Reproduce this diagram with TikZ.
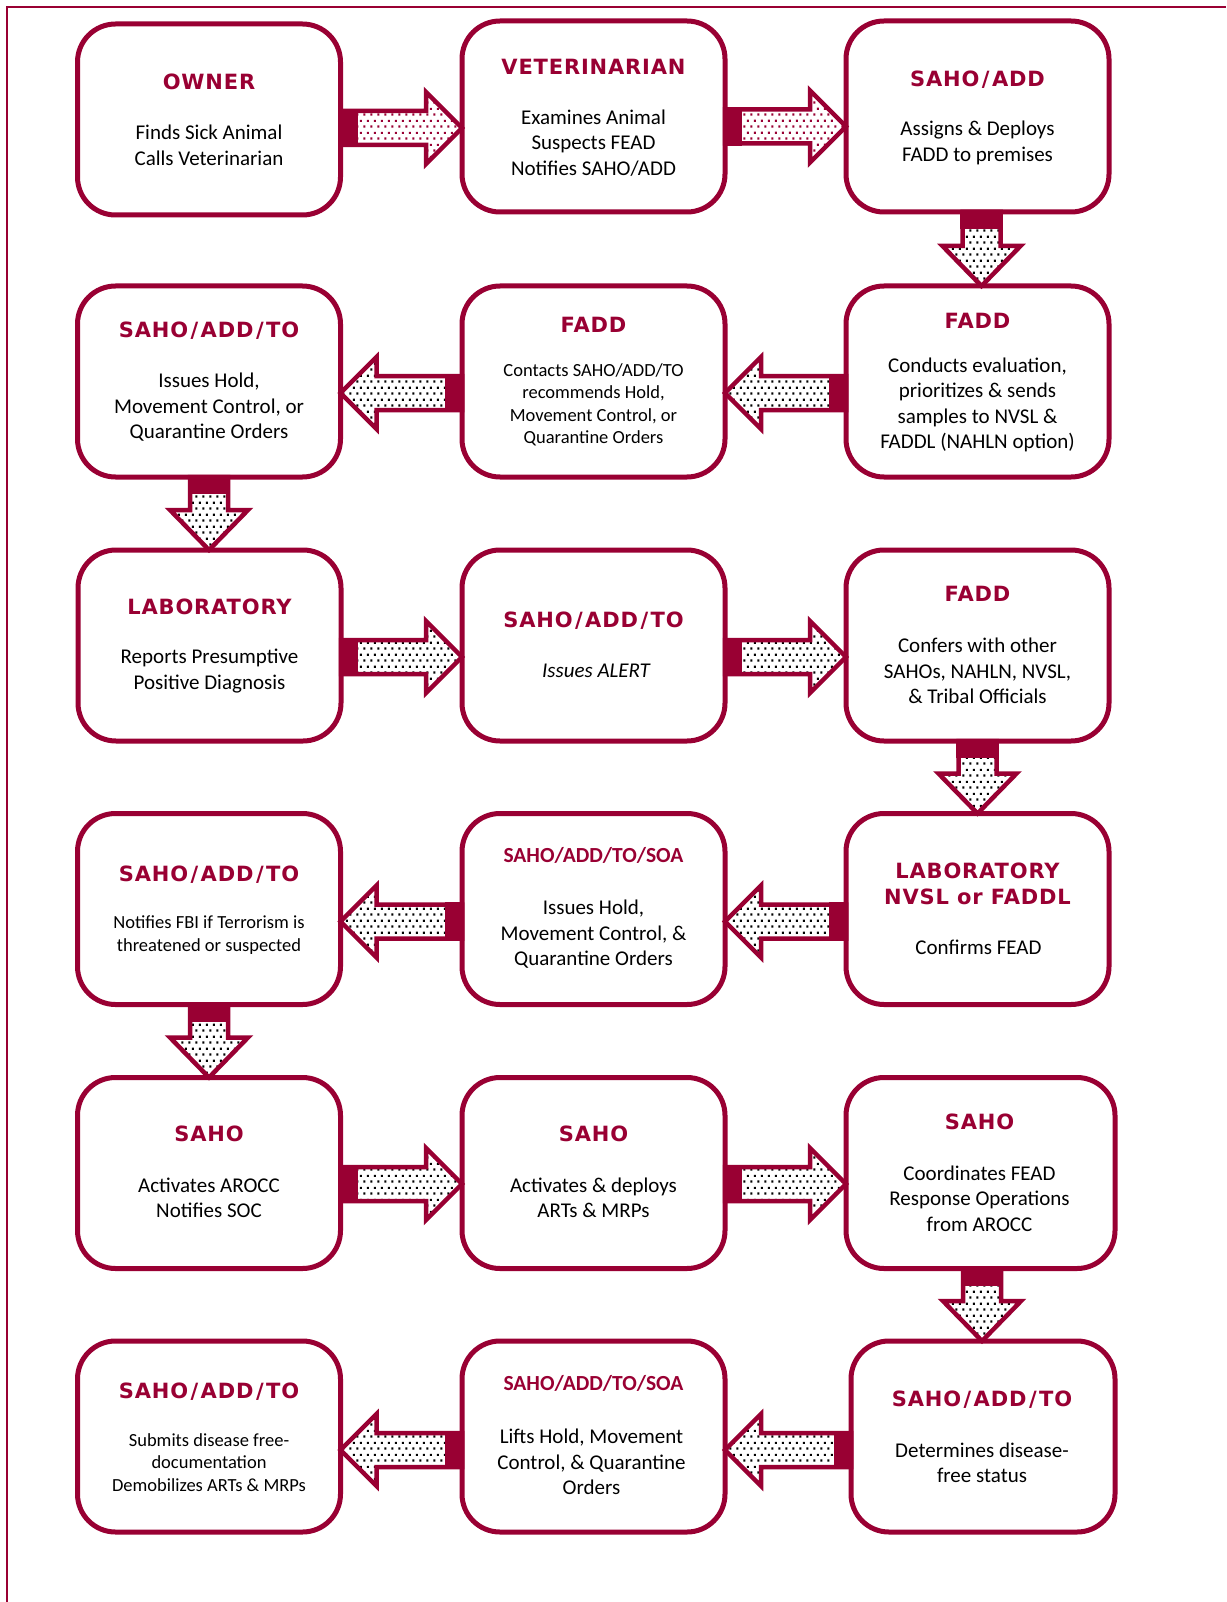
\documentclass[tikz,border=0pt]{standalone}
\usepackage{fontspec}
\setmainfont{Carlito}
\newfontfamily\headfont{DejaVu Sans}[LetterSpace=4]
\usetikzlibrary{calc,patterns.meta}
\definecolor{crim}{RGB}{153,0,51}
\newcommand\slh{\hbox to 0.6em{\hss/\hss}}
\pgfdeclarepattern{
  name=stagdots,
  type=uncolored,
  bottom left={\pgfpoint{0pt}{0pt}},
  top right={\pgfpoint{7.3pt}{11.6pt}},
  tile size={\pgfpoint{7.3pt}{11.6pt}},
  code={
    \pgfpathrectangle{\pgfpoint{0.5pt}{0.5pt}}{\pgfpoint{2.2pt}{2.2pt}}
    \pgfpathrectangle{\pgfpoint{4.15pt}{6.3pt}}{\pgfpoint{2.2pt}{2.2pt}}
    \pgfusepath{fill}
  }
}
\tikzset{
  box/.style={draw=crim, line width=5pt, rounded corners=38pt, minimum width=263pt,
    minimum height=191pt, outer sep=0pt, inner sep=0pt, fill=white},
  head/.style={text=crim, font={\headfont\bfseries\fontsize{21pt}{26.5pt}\selectfont},
    inner sep=0pt, align=center},
  headone/.style={head, text height=15.3pt, text depth=0pt},
  sohead/.style={text=crim, font={\bfseries\fontsize{21.5pt}{24pt}\selectfont},
    inner sep=0pt, text height=13.8pt, text depth=0pt},
  body/.style={font={\fontsize{21pt}{25.5pt}\selectfont}, inner sep=0pt, align=center},
  small/.style={font={\fontsize{18.5pt}{22.5pt}\selectfont}, inner sep=0pt, align=center},
  arrowline/.style={draw=crim, line width=4.5pt, line join=miter},
}
% #1 tail, #2 tip, #3 shaft half width, #4 head half width, #5 head length, #6 dot colour
\newcommand\flowarrow[6]{%
  \path (#1) coordinate (fa-a);
  \path (#2) coordinate (fa-b);
  \path ($(fa-b)!#5!(fa-a)$) coordinate (fa-h);
  \path ($(fa-a)!#3!90:(fa-b)$) coordinate (fa-a1)
        ($(fa-a)!#3!-90:(fa-b)$) coordinate (fa-a2)
        ($(fa-h)!#3!90:(fa-b)$) coordinate (fa-h1)
        ($(fa-h)!#3!-90:(fa-b)$) coordinate (fa-h2)
        ($(fa-h)!#4!90:(fa-b)$) coordinate (fa-w1)
        ($(fa-h)!#4!-90:(fa-b)$) coordinate (fa-w2);
  \path ($(fa-a1)!15pt!(fa-h1)$) coordinate (fa-t1)
        ($(fa-a2)!15pt!(fa-h2)$) coordinate (fa-t2);
  \draw[arrowline, preaction={fill=white}, pattern=stagdots, pattern color=#6]
    (fa-a1) -- (fa-h1) -- (fa-w1) -- (fa-b) -- (fa-w2) -- (fa-h2) -- (fa-a2) -- cycle;
  \draw[arrowline, fill=crim] (fa-a1) -- (fa-t1) -- (fa-t2) -- (fa-a2) -- cycle;
}
\begin{document}
\begin{tikzpicture}[x=1pt,y=-1pt]
\useasboundingbox (0,0) rectangle (1226,1602);
\fill[white] (0,0) rectangle (1226,1602);
% page border (top and left)
\draw[crim, line width=2pt] (7,1602) -- (7,7) -- (1226,7);

% boxes
\node[box] (b11) at (209,119.5) {};
\node[box] (b12) at (593.5,116.5) {};
\node[box] (b13) at (977.5,116.5) {};
\node[box] (b21) at (209,381.5) {};
\node[box] (b22) at (593.5,381.5) {};
\node[box] (b23) at (977.5,381.5) {};
\node[box] (b31) at (209.5,645.5) {};
\node[box] (b32) at (593.5,645.5) {};
\node[box] (b33) at (977.5,645.5) {};
\node[box] (b41) at (209,909) {};
\node[box] (b42) at (593.5,909) {};
\node[box] (b43) at (977.5,909) {};
\node[box] (b51) at (209,1173) {};
\node[box] (b52) at (593.5,1173) {};
\node[box, minimum width=269pt] (b53) at (980.5,1173) {};
\node[box] (b61) at (209,1436.5) {};
\node[box] (b62) at (593.5,1436.5) {};
\node[box, minimum width=264pt] (b63) at (983,1436.5) {};

% horizontal arrows
\flowarrow{$(b11.east)+(0,8.5)$}{b12.west |- fa-a}{17pt}{36pt}{36pt}{crim}
\flowarrow{$(b12.east)+(0,10)$}{b13.west |- fa-a}{17pt}{36pt}{36pt}{crim}
\flowarrow{$(b22.west)+(0,11.5)$}{b21.east |- fa-a}{17pt}{36pt}{36pt}{black}
\flowarrow{$(b23.west)+(0,11.5)$}{b22.east |- fa-a}{17pt}{36pt}{36pt}{black}
\flowarrow{$(b31.east)+(0,11.5)$}{b32.west |- fa-a}{17pt}{36pt}{36pt}{black}
\flowarrow{$(b32.east)+(0,11.5)$}{b33.west |- fa-a}{17pt}{36pt}{36pt}{black}
\flowarrow{$(b42.west)+(0,12.5)$}{b41.east |- fa-a}{17pt}{36pt}{36pt}{black}
\flowarrow{$(b43.west)+(0,12.5)$}{b42.east |- fa-a}{17pt}{36pt}{36pt}{black}
\flowarrow{$(b51.east)+(0,11)$}{b52.west |- fa-a}{17pt}{36pt}{36pt}{black}
\flowarrow{$(b52.east)+(0,11)$}{b53.west |- fa-a}{17pt}{36pt}{36pt}{black}
\flowarrow{$(b62.west)+(0,13.5)$}{b61.east |- fa-a}{17pt}{36pt}{36pt}{black}
\flowarrow{$(b63.west)+(0,13.5)$}{b62.east |- fa-a}{17pt}{36pt}{36pt}{black}
% vertical arrows
\flowarrow{$(b13.south)+(4,0)$}{fa-a |- b23.north}{19pt}{39pt}{40pt}{black}
\flowarrow{b21.south}{fa-a |- b31.north}{19pt}{39pt}{40pt}{black}
\flowarrow{b33.south}{fa-a |- b43.north}{19pt}{39pt}{40pt}{black}
\flowarrow{b41.south}{fa-a |- b51.north}{19pt}{39pt}{40pt}{black}
\flowarrow{$(b53.south)+(1.5,0)$}{fa-a |- b63.north}{19pt}{39pt}{40pt}{black}

% texts
\node[headone] (h11) at (209,81.7) {OWNER};
\node[body] (t11) at (209,145.3) {Finds Sick Animal\\Calls Veterinarian};
\node[headone] (h12) at (593.5,66.4) {VETERINARIAN};
\node[body] (t12) at (593.5,143) {Examines Animal\\Suspects FEAD\\Notifies SAHO/ADD};
\node[headone] (h13) at (977.5,78.7) {SAHO\slh ADD};
\node[body] (t13) at (977.5,143) {Assigns \& Deploys\\FADD to premises};

\node[headone] (h21) at (209,330) {SAHO\slh ADD\slh TO};
\node[body] (t21) at (209,407.5) {Issues Hold,\\Movement Control, or\\Quarantine Orders};
\node[headone] (h22) at (593.5,325) {FADD};
\node[small] (t22) at (593.5,405) {Contacts SAHO/ADD/TO\\recommends Hold,\\Movement Control, or\\Quarantine Orders};
\node[headone] (h23) at (977.5,321) {FADD};
\node[body] (t23) at (977.5,405) {Conducts evaluation,\\prioritizes \& sends\\samples to NVSL \&\\FADDL (NAHLN option)};

\node[headone] (h31) at (209.5,607) {LABORATORY};
\node[body] (t31) at (209.5,671) {Reports Presumptive\\Positive Diagnosis};
\node[headone] (h32) at (593.5,620) {SAHO\slh ADD\slh TO};
\node[body, font={\itshape\fontsize{21pt}{25.5pt}\selectfont}] (t32) at (596,671) {Issues ALERT};
\node[headone] (h33) at (977.5,593.6) {FADD};
\node[body] (t33) at (977.5,671) {Confers with other\\SAHOs, NAHLN, NVSL,\\\& Tribal Officials};

\node[headone] (h41) at (209,873.5) {SAHO\slh ADD\slh TO};
\node[small] (t41) at (209,935) {Notifies FBI if Terrorism is\\threatened or suspected};
\node[sohead] (h42) at (593.5,856) {SAHO/ADD/TO/SOA};
\node[body] (t42) at (593.5,934.5) {Issues Hold,\\Movement Control, \&\\Quarantine Orders};
\node[head] (h43) at (977.5,883.7) {LABORATORY\\NVSL or FADDL};
\node[body] (t43) at (978.5,947) {Confirms FEAD};

\node[headone] (h51) at (209,1134) {SAHO};
\node[body] (t51) at (209,1198) {Activates AROCC\\Notifies SOC};
\node[headone] (h52) at (593.5,1134) {SAHO};
\node[body] (t52) at (593.5,1198) {Activates \& deploys\\ARTs \& MRPs};
\node[headone] (h53) at (979.5,1122) {SAHO};
\node[body] (t53) at (979.5,1198.5) {Coordinates FEAD\\Response Operations\\from AROCC};

\node[headone] (h61) at (209,1390.5) {SAHO\slh ADD\slh TO};
\node[small] (t61) at (209,1462.5) {Submits disease free-\\documentation\\Demobilizes ARTs \& MRPs};
\node[sohead] (h62) at (593.5,1384) {SAHO/ADD/TO/SOA};
\node[body] (t62) at (591.5,1462) {Lifts Hold, Movement\\Control, \& Quarantine\\Orders};
\node[headone] (h63) at (982,1398.7) {SAHO\slh ADD\slh TO};
\node[body] (t63) at (982,1462.7) {Determines disease-\\free status};
\end{tikzpicture}
\end{document}
